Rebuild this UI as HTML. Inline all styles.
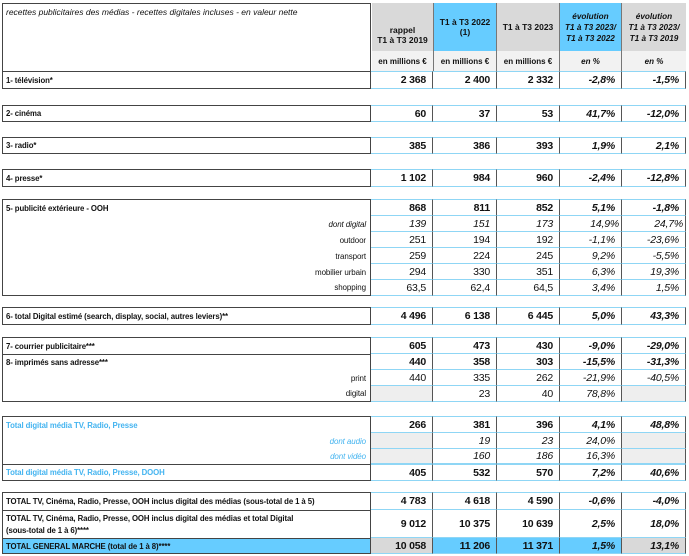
<!DOCTYPE html>
<html><head><meta charset="utf-8">
<style>
*{margin:0;padding:0;box-sizing:border-box}
body{width:689px;height:556px;background:#fff;position:relative;overflow:hidden;font-family:"Liberation Sans",sans-serif;color:#111}
.r{position:absolute;left:2px;width:684px;display:flex}
.l{width:369px;border-left:1.5px solid #444;border-right:1.5px solid #444;font-size:7.8px;font-weight:bold;padding-left:3px;display:flex;align-items:center;letter-spacing:-0.1px}
.l.s{justify-content:flex-end;padding-right:4px;font-weight:normal;font-size:8px}
.c{border-right:1px solid #555;font-size:10.5px;font-weight:bold;display:flex;align-items:center;justify-content:flex-end;padding-right:6px;border-bottom:1.5px solid #8fd6f5;letter-spacing:-0.2px}
.c1{width:62px}.c2{width:64px}.c3{width:63px}.c4{width:62px;font-style:italic}.c5{width:64px;font-style:italic}
.n{font-weight:normal}
.top{border-top:1.5px solid #444}.bot{border-bottom:1.5px solid #444}
.ctop .c{border-top:1.5px solid #8fd6f5}
.g{background:#eeeeee}
.b{background:#66ccff}
.it{font-style:italic}
.blue{color:#44b4f0}
</style></head><body>

<div style="position:absolute;left:2px;top:3px;width:369px;height:69px;border:1.5px solid #444;font-size:8.5px;font-style:italic;padding:3px 3px">recettes publicitaires des médias - recettes digitales incluses - en valeur nette</div>
<div style="position:absolute;left:372px;top:3px;width:62px;height:48px;background:#d9d9d9;font-size:8.5px;font-weight:bold;display:flex;align-items:center;justify-content:center;text-align:center;padding-top:16px;border-right:1px solid #777">rappel<br>T1 à T3 2019</div>
<div style="position:absolute;left:434px;top:3px;width:63px;height:48px;background:#66ccff;font-size:8.5px;font-weight:bold;display:flex;align-items:center;justify-content:center;text-align:center;border-right:1px solid #777">T1 à T3 2022<br>(1)</div>
<div style="position:absolute;left:497px;top:3px;width:63px;height:48px;background:#d9d9d9;font-size:8.5px;font-weight:bold;display:flex;align-items:center;justify-content:center;text-align:center;border-right:1px solid #777">T1 à T3 2023</div>
<div style="position:absolute;left:560px;top:3px;width:62px;height:48px;background:#66ccff;font-size:8.2px;font-weight:bold;font-style:italic;display:flex;align-items:center;justify-content:center;text-align:center;border-right:1px solid #777;line-height:11px">évolution<br>T1 à T3 2023/<br>T1 à T3 2022</div>
<div style="position:absolute;left:622px;top:3px;width:64px;height:48px;background:#d9d9d9;font-size:8.2px;font-weight:bold;font-style:italic;display:flex;align-items:center;justify-content:center;text-align:center;line-height:11px">évolution<br>T1 à T3 2023/<br>T1 à T3 2019</div>
<div style="position:absolute;left:372px;top:51px;width:314px;height:20px;background:#f2f2f2;display:flex;font-size:8px;font-weight:bold">
<div style="width:62px;border-right:1px solid #777;display:flex;align-items:center;justify-content:center">en millions €</div>
<div style="width:63px;border-right:1px solid #777;display:flex;align-items:center;justify-content:center">en millions €</div>
<div style="width:63px;border-right:1px solid #777;display:flex;align-items:center;justify-content:center">en millions €</div>
<div style="width:62px;border-right:1px solid #777;display:flex;align-items:center;justify-content:center;font-style:italic">en %</div>
<div style="width:64px;display:flex;align-items:center;justify-content:center;font-style:italic">en %</div>
</div>

<div class="r ctop" style="top:71px;height:18px"><div class="l top bot">1- télévision*</div><div class="c c1">2 368</div><div class="c c2">2 400</div><div class="c c3">2 332</div><div class="c c4">-2,8%</div><div class="c c5">-1,5%</div></div>
<div class="r ctop" style="top:105px;height:17px"><div class="l top bot">2- cinéma</div><div class="c c1">60</div><div class="c c2">37</div><div class="c c3">53</div><div class="c c4">41,7%</div><div class="c c5">-12,0%</div></div>
<div class="r ctop" style="top:137px;height:17px"><div class="l top bot">3- radio*</div><div class="c c1">385</div><div class="c c2">386</div><div class="c c3">393</div><div class="c c4">1,9%</div><div class="c c5">2,1%</div></div>
<div class="r ctop" style="top:169px;height:18px"><div class="l top bot">4- presse*</div><div class="c c1">1 102</div><div class="c c2">984</div><div class="c c3">960</div><div class="c c4">-2,4%</div><div class="c c5">-12,8%</div></div>

<div class="r ctop" style="top:199px;height:17px"><div class="l top">5- publicité extérieure - OOH</div><div class="c c1">868</div><div class="c c2">811</div><div class="c c3">852</div><div class="c c4">5,1%</div><div class="c c5">-1,8%</div></div>
<div class="r" style="top:216px;height:16px"><div class="l s it">dont digital</div><div class="c c1 n it">139</div><div class="c c2 n it">151</div><div class="c c3 n it">173</div><div class="c c4 n" style="padding-right:2px">14,9%</div><div class="c c5 n" style="padding-right:2px">24,7%</div></div>
<div class="r" style="top:232px;height:16px"><div class="l s">outdoor</div><div class="c c1 n">251</div><div class="c c2 n">194</div><div class="c c3 n">192</div><div class="c c4 n">-1,1%</div><div class="c c5 n">-23,6%</div></div>
<div class="r" style="top:248px;height:16px"><div class="l s">transport</div><div class="c c1 n">259</div><div class="c c2 n">224</div><div class="c c3 n">245</div><div class="c c4 n">9,2%</div><div class="c c5 n">-5,5%</div></div>
<div class="r" style="top:264px;height:16px"><div class="l s">mobilier urbain</div><div class="c c1 n">294</div><div class="c c2 n">330</div><div class="c c3 n">351</div><div class="c c4 n">6,3%</div><div class="c c5 n">19,3%</div></div>
<div class="r" style="top:280px;height:16px"><div class="l s bot">shopping</div><div class="c c1 n">63,5</div><div class="c c2 n">62,4</div><div class="c c3 n">64,5</div><div class="c c4 n">3,4%</div><div class="c c5 n">1,5%</div></div>

<div class="r ctop" style="top:307px;height:18px"><div class="l top bot">6- total Digital estimé (search, display, social, autres leviers)**</div><div class="c c1">4 496</div><div class="c c2">6 138</div><div class="c c3">6 445</div><div class="c c4">5,0%</div><div class="c c5">43,3%</div></div>

<div class="r ctop" style="top:337px;height:17px"><div class="l top">7- courrier publicitaire***</div><div class="c c1">605</div><div class="c c2">473</div><div class="c c3">430</div><div class="c c4">-9,0%</div><div class="c c5">-29,0%</div></div>
<div class="r" style="top:354px;height:16px"><div class="l top">8- imprimés sans adresse***</div><div class="c c1">440</div><div class="c c2">358</div><div class="c c3">303</div><div class="c c4">-15,5%</div><div class="c c5">-31,3%</div></div>
<div class="r" style="top:370px;height:16px"><div class="l s">print</div><div class="c c1 n">440</div><div class="c c2 n">335</div><div class="c c3 n">262</div><div class="c c4 n">-21,9%</div><div class="c c5 n">-40,5%</div></div>
<div class="r" style="top:386px;height:16px"><div class="l s bot">digital</div><div class="c c1 n g"></div><div class="c c2 n">23</div><div class="c c3 n">40</div><div class="c c4 n">78,8%</div><div class="c c5 n g"></div></div>

<div class="r ctop" style="top:416px;height:17px"><div class="l top blue">Total digital média TV, Radio, Presse</div><div class="c c1">266</div><div class="c c2">381</div><div class="c c3">396</div><div class="c c4">4,1%</div><div class="c c5">48,8%</div></div>
<div class="r" style="top:433px;height:16px"><div class="l s it blue">dont audio</div><div class="c c1 n g"></div><div class="c c2 n it">19</div><div class="c c3 n it">23</div><div class="c c4 n">24,0%</div><div class="c c5 n g"></div></div>
<div class="r" style="top:449px;height:15px"><div class="l s it blue">dont vidéo</div><div class="c c1 n g"></div><div class="c c2 n it">160</div><div class="c c3 n it">186</div><div class="c c4 n">16,3%</div><div class="c c5 n g"></div></div>
<div class="r ctop" style="top:464px;height:17px"><div class="l top bot blue">Total digital média TV, Radio, Presse, DOOH</div><div class="c c1">405</div><div class="c c2">532</div><div class="c c3">570</div><div class="c c4">7,2%</div><div class="c c5">40,6%</div></div>

<div class="r ctop" style="top:492px;height:18px"><div class="l top" style="font-size:7.8px">TOTAL TV, Cinéma, Radio, Presse, OOH inclus digital des médias (sous-total de 1 à 5)</div><div class="c c1">4 783</div><div class="c c2">4 618</div><div class="c c3">4 590</div><div class="c c4">-0,6%</div><div class="c c5">-4,0%</div></div>
<div class="r" style="top:510px;height:28px"><div class="l top" style="font-size:7.8px;line-height:12px">TOTAL TV, Cinéma, Radio, Presse, OOH inclus digital des médias et total Digital<br>(sous-total de 1 à 6)****</div><div class="c c1">9 012</div><div class="c c2">10 375</div><div class="c c3">10 639</div><div class="c c4">2,5%</div><div class="c c5">18,0%</div></div>
<div class="r" style="top:538px;height:16px"><div class="l top bot b" style="font-size:7.8px">TOTAL GENERAL MARCHE (total de 1 à 8)****</div><div class="c c1" style="background:#d9d9d9">10 058</div><div class="c c2 b">11 206</div><div class="c c3 b">11 371</div><div class="c c4 b">1,5%</div><div class="c c5" style="background:#d9d9d9">13,1%</div></div>
</body></html>
